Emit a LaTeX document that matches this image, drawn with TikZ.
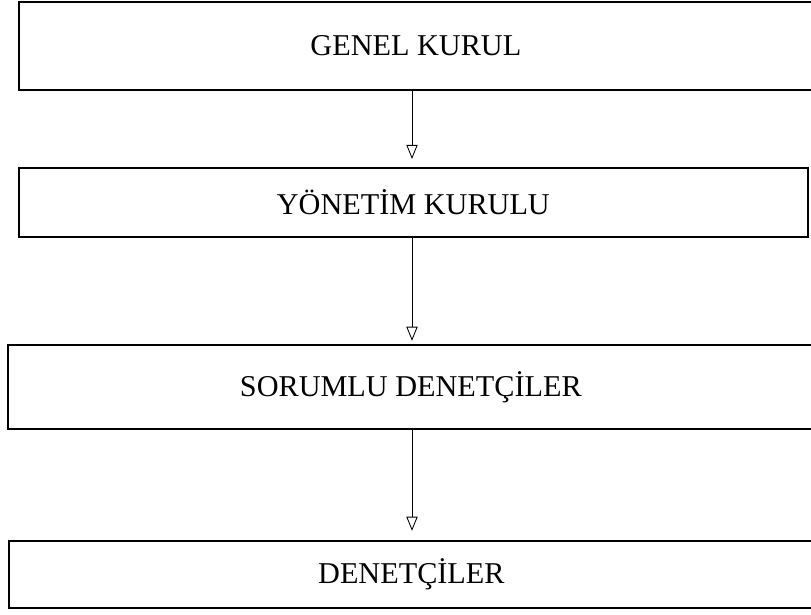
\documentclass[tikz,border=0pt]{standalone}
\usepackage{fontspec}
\setmainfont{Liberation Serif}
\usetikzlibrary{arrows.meta}
\tikzset{%
  myedge/.style={-{Triangle[open, length=10pt, width=8pt]}, line width=0.6pt},
  mybox/.style={rectangle, draw=black, line width=1.1pt, anchor=north west, inner sep=0pt, font=\fontsize{21.5}{25}\selectfont}
}

\begin{document}
\begin{tikzpicture}[x=0.025cm, y=-0.025cm]

  \useasboundingbox (0,0) rectangle (811,614);
  \node[mybox, minimum width=19.85cm, minimum height=2.2cm] (gk) at (18,1) {GENEL KURUL};
  \node[mybox, minimum width=19.725cm, minimum height=1.725cm] (yk) at (18,167) {YÖNETİM KURULU};
  \node[mybox, minimum width=20.15cm, minimum height=2.1cm] (sd) at (7,344) {SORUMLU DENETÇİLER};
  \node[mybox, minimum width=20.125cm, minimum height=1.675cm] (dn) at (8,540) {DENETÇİLER};
  \coordinate (ax) at (412,0);


  \draw [myedge, shorten >=0.2cm] (gk.south -| ax) -- (yk.north -| ax);
  \draw [myedge, shorten >=0.08cm] (yk.south -| ax) -- (sd.north -| ax);
  \draw [myedge, shorten >=0.23cm] (sd.south -| ax) -- (dn.north -| ax);
\end{tikzpicture}
\end{document}
